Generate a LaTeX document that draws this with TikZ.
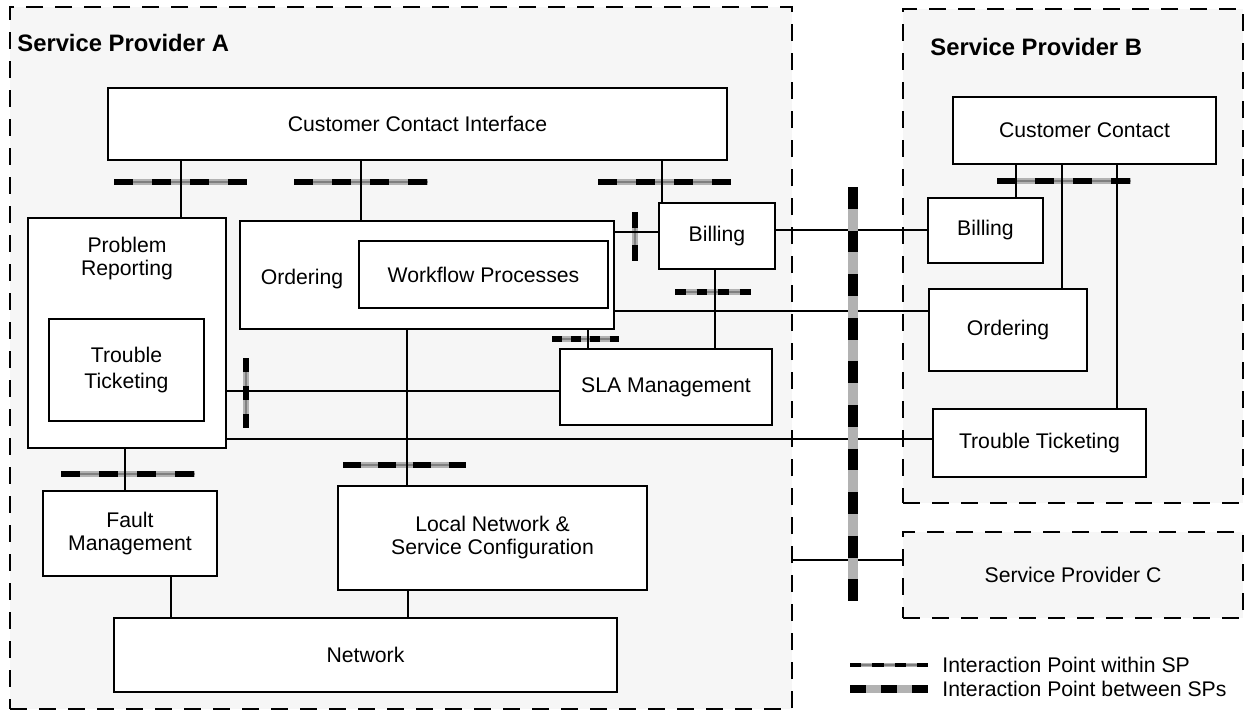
\documentclass[tikz,border=0pt]{standalone}
\usepackage{fontspec}
\setmainfont{Liberation Sans}
\usepackage{tikz}
\usetikzlibrary{fit}
\definecolor{spfill}{gray}{0.965}
\definecolor{ipgray}{gray}{0.7}
\definecolor{ipmid}{gray}{0.5}

\begin{document}
\begin{tikzpicture}[
    x=0.5pt, y=-0.5pt,
    every node/.style={font=\fontsize{10.6}{11.5}\selectfont},
    every label/.style={align=center},
    spframe/.style={draw, fill=spfill, line width=1pt, dash pattern=on 8.5pt off 6pt, inner sep=0pt},
    box/.style={draw, fill=white, line width=1pt, inner sep=0pt},
    sptitle/.style={font=\fontsize{11.9}{13}\selectfont\bfseries, anchor=west, inner sep=0pt},
    link/.style={line width=0.75pt},
    ipin/.style={line width=3pt, draw=ipgray, postaction={draw=ipmid, line width=0.6pt},
                 postaction={draw=black, dash pattern=on #1 off #1}},
    ipout/.style={line width=5pt, draw=ipgray, postaction={draw=black, dash pattern=on #1 off #1}},
]
\useasboundingbox (0,0) rectangle (1246,713);

% --- Provider frames ---
\node[spframe, fit={(10,7) (792,709)}] (spA) {};
\node[spframe, fit={(903,9) (1243,503)}] (spB) {};
\node[spframe, fit={(903,532) (1243,618)}, label=center:Service Provider C] (spC) {};
\node[sptitle] (spAtitle) at (17,43) {Service Provider A};
\node[sptitle] (spBtitle) at (930,47) {Service Provider B};

% --- Interaction points inside a provider ---
\draw[ipin=9.5pt] (114,182) -- (247,182);
\draw[ipin=9.5pt] (294,182) -- (428,182);
\draw[ipin=9.5pt] (598,182) -- (731,182);
\draw[ipin=8.2pt] (635,212) -- (635,261);
\draw[ipin=5.4pt] (675,292) -- (751,292);
\draw[ipin=4.8pt] (552,339) -- (619,339);
\draw[ipin=7pt] (246,358) -- (246,428);
\draw[ipin=9.5pt] (61,474) -- (195,474);
\draw[ipin=8.8pt] (343,465) -- (466,465);
\draw[ipin=9.5pt] (997,181) -- (1131,181);

% --- Provider A ---
\node[box, fit={(108,88) (727,160)}, label=center:Customer Contact Interface] (cci) {};
\node[box, fit={(28,218) (226,448)}] (pr) {};
\node (prlbl) [align=center] at (127,259) {Problem\\Reporting};
\node[box, fit={(49,319) (204,421)},
      label={[font=\fontsize{10.6}{13}\selectfont]center:Trouble\\Ticketing}] (tt) {};
\node[box, fit={(240,221) (614,329)}] (ord) {};
\node (ordlbl) at (302,279) {Ordering};
\node[box, fit={(359,241) (608,308)}, label=center:Workflow Processes] (wf) {};
\node[box, fit={(659,203) (775,269)}, label=center:Billing] (billA) {};
\node[box, fit={(560,349) (772,425)}, label=center:SLA Management] (sla) {};
\node[box, fit={(43,491) (217,576)}, label=center:Fault\\Management] (fault) {};
\node[box, fit={(338,486) (647,590)}, label=center:Local Network \&\\Service Configuration] (lnsc) {};
\node[box, fit={(114,618) (617,692)}, label=center:Network] (net) {};

% --- Provider B ---
\node[box, fit={(953,97) (1216,164)}, label=center:Customer Contact] (cciB) {};
\node[box, fit={(928,198) (1043,263)}, label=center:Billing] (billB) {};
\node[box, fit={(929,289) (1087,371)}, label=center:Ordering] (ordB) {};
\node[box, fit={(933,409) (1146,477)}, label=center:Trouble Ticketing] (ttB) {};

% --- Links ---
\draw[link] (cci.south -| 181,0) -- (pr.north -| 181,0);
\draw[link] (cci.south -| 361,0) -- (ord.north -| 361,0);
\draw[link] (cci.south -| 662,0) -- (billA.north -| 662,0);
\draw[link] (ord.east |- 0,232) -- (billA.west |- 0,232);
\draw[link] (ord.east |- 0,311) -- (ordB.west |- 0,311);
\draw[link] (billA.east |- 0,230) -- (billB.west |- 0,230);
\draw[link] (billA.south -| 715,0) -- (sla.north -| 715,0);
\draw[link] (ord.south -| 588,0) -- (sla.north -| 588,0);
\draw[link] (pr.east |- 0,391) -- (sla.west |- 0,391);
\draw[link] (pr.east |- 0,439) -- (ttB.west |- 0,439);
\draw[link] (pr.south -| 125,0) -- (fault.north -| 125,0);
\draw[link] (ord.south -| 407,0) -- (lnsc.north -| 407,0);
\draw[link] (fault.south -| 171,0) -- (net.north -| 171,0);
\draw[link] (lnsc.south -| 408,0) -- (net.north -| 408,0);
\draw[link] (spA.east |- 0,560) -- (spC.west |- 0,560);
\draw[link] (cciB.south -| 1016,0) -- (billB.north -| 1016,0);
\draw[link] (cciB.south -| 1062,0) -- (ordB.north -| 1062,0);
\draw[link] (cciB.south -| 1117,0) -- (ttB.north -| 1117,0);

% --- Interaction point between providers ---
\draw[ipout=10.9pt] (853,187) -- (853,601);

% --- Legend ---
\draw[ipin=5.6pt, line width=2pt] (850,665) -- (928,665);
\draw[ipout=7.8pt, line width=4pt] (850,689) -- (928,689);
\node[anchor=west, inner sep=0pt] (lgin) at (942,665) {Interaction Point within SP};
\node[anchor=west, inner sep=0pt] (lgout) at (942,689) {Interaction Point between SPs};
\end{tikzpicture}
\end{document}
